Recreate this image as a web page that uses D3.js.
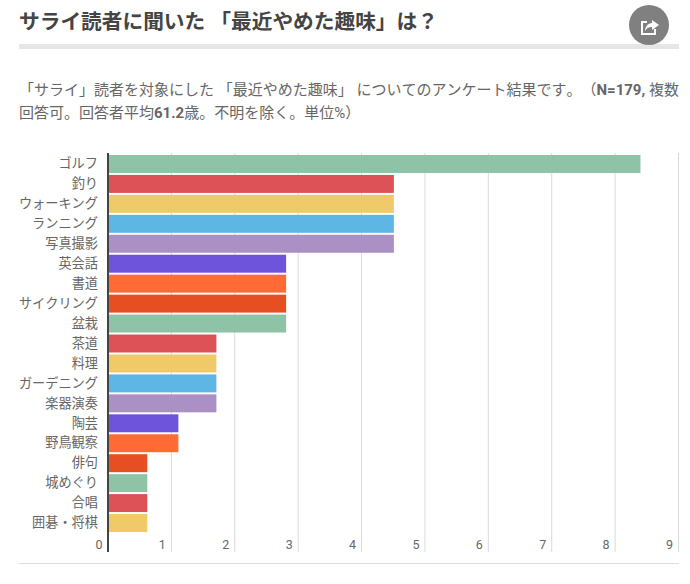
<!DOCTYPE html>
<html lang="ja"><head><meta charset="utf-8">
<script src="https://cdn.jsdelivr.net/npm/d3@7/dist/d3.min.js"></script>
<style>
html,body{margin:0;padding:0;background:#fff;overflow:hidden}
text{font-family:Roboto,"Noto Sans CJK JP",sans-serif;text-spacing-trim:space-all;font-kerning:none}
</style></head><body>
<svg id="c" width="690" height="584"></svg>
<script>
const categories=["ゴルフ","釣り","ウォーキング","ランニング","写真撮影","英会話","書道","サイクリング","盆栽","茶道","料理","ガーデニング","楽器演奏","陶芸","野鳥観察","俳句","城めぐり","合唱","囲碁・将棋"];
const values=[8.4,4.51,4.51,4.51,4.51,2.81,2.81,2.81,2.81,1.71,1.71,1.71,1.71,1.11,1.11,0.62,0.62,0.62,0.62];
const palette=["#8fc3a7","#dd5257","#f0c969","#5eb6e4","#aa90c5","#6e54da","#ff6a35","#e64f22"];
const xTicks=[0,1,2,3,4,5,6,7,8,9];
const titleText="サライ読者に聞いた 「最近やめた趣味」は？";
const subtitleLines=["「サライ」読者を対象にした 「最近やめた趣味」 についてのアンケート結果です。（","回答可。回答者平均","歳。不明を除く。単位%）"];

const svg=d3.select("#c");
const x=d3.scaleLinear().domain([0,9]).range([108,678.5]);
const y=d3.scaleBand().domain(categories).range([154,533]).paddingInner(0.1).paddingOuter(0.05);
const color=d3.scaleOrdinal().domain(categories).range(palette);

// header
svg.append("text").attr("x",19).attr("y",29).attr("font-size",20.7).attr("font-weight",700).attr("fill","#444").text(titleText);
svg.append("rect").attr("x",19).attr("y",44).attr("width",660).attr("height",5).attr("fill","#e6e6e6");
svg.append("circle").attr("cx",649).attr("cy",25).attr("r",20).attr("fill","#808080");
const ic=svg.append("g").attr("transform","translate(641,18)");
ic.append("path").attr("d","M11 2 L18 7 L11 12 L11 9 C7 9 5 11 4 13 C4 9 7 5 11 5 Z").attr("fill","#fff");
ic.append("path").attr("d","M6 4 H1 V16 H14 V11").attr("fill","none").attr("stroke","#fff").attr("stroke-width",2);

const sub=svg.append("g").attr("font-size",15).attr("fill","#666");
const t1=sub.append("text").attr("x",19).attr("y",94.5);
t1.append("tspan").text(subtitleLines[0]);
t1.append("tspan").attr("font-weight",700).text("N=179,");
t1.append("tspan").text(" 複数");
const t2=sub.append("text").attr("x",19).attr("y",117.5);
t2.append("tspan").text(subtitleLines[1]);
t2.append("tspan").attr("font-weight",700).text("61.2");
t2.append("tspan").text(subtitleLines[2]);

// grid + axis ticks
const xAxis=d3.axisBottom(x).tickValues(xTicks).tickSize(0).tickFormat(d3.format("d"));
const gx=svg.append("g").attr("transform","translate(0,552)").call(xAxis);
gx.select(".domain").remove();
gx.selectAll(".tick line").remove();
gx.selectAll(".tick text").attr("y",-3).attr("dy","0").attr("dx",-6).attr("text-anchor","end").attr("font-size",12.5).attr("fill","#666").attr("font-family","Roboto");
svg.append("g").selectAll("line").data(xTicks.slice(1)).join("line")
  .attr("x1",d=>x(d)).attr("x2",d=>x(d)).attr("y1",153).attr("y2",552)
  .attr("stroke","#d9d9d9").attr("stroke-width",1);

// bars
svg.append("g").selectAll("rect").data(categories).join("rect")
  .attr("x",x(0)+1).attr("y",d=>y(d)).attr("height",y.bandwidth())
  .attr("width",(d,i)=>x(values[i])-x(0)-1).attr("fill",d=>color(d));

// category axis
const yAxis=d3.axisLeft(y).tickSize(0);
const gy=svg.append("g").attr("transform","translate(108,0)").call(yAxis);
gy.select(".domain").remove();
gy.selectAll(".tick text").attr("x",-10).attr("font-size",13.2).attr("fill","#666");
svg.append("line").attr("x1",x(0)).attr("x2",x(0)).attr("y1",153).attr("y2",552).attr("stroke","#444").attr("stroke-width",2);

// bottom rule
svg.append("line").attr("x1",19).attr("x2",679).attr("y1",563.5).attr("y2",563.5).attr("stroke","#ddd").attr("stroke-width",1);
</script></body></html>
